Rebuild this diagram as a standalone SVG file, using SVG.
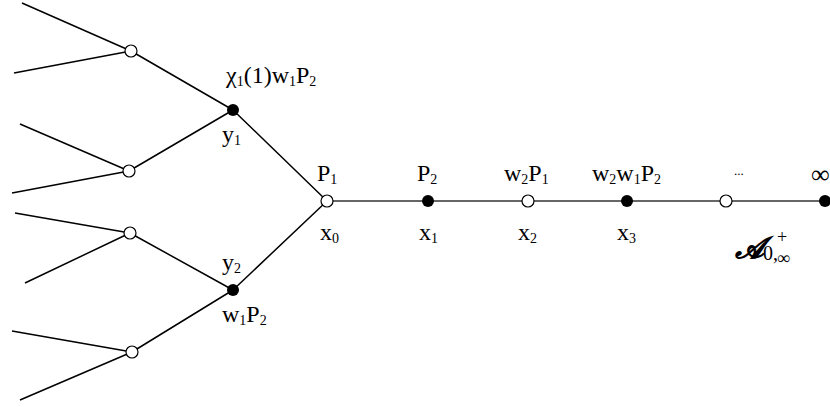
<svg xmlns="http://www.w3.org/2000/svg" width="830" height="407" viewBox="0 0 830 407">
<style>
.e{stroke:#000;stroke-width:1.5;fill:none}
.h{stroke:#333;stroke-width:1.3}
.o{fill:#fff;stroke:#000;stroke-width:1.2}
.f{fill:#000}
text{font-family:"Liberation Serif","Times New Roman",serif;font-size:24px;fill:#000}
.s{font-size:14px}
</style>
<rect width="830" height="407" fill="#fff"/>
<g id="connectors">
<path class="e" d="M22,3L131,51M14,73L131,51M20,124L129,171M12,193L129,171M15,213L130,233M25,283L130,233M12,331L132,352M20,400L132,352M131,51L233,110M129,171L233,110M130,233L233,290M132,352L233,290M233,110L327,201M233,290L327,201"/>
<line class="h" x1="327" y1="201" x2="830" y2="201"/>
</g>
<g id="leaf1"><circle class="o" cx="131" cy="51" r="6"/></g>
<g id="leaf2"><circle class="o" cx="129" cy="171" r="6"/></g>
<g id="leaf3"><circle class="o" cx="130" cy="233" r="6"/></g>
<g id="leaf4"><circle class="o" cx="132" cy="352" r="6"/></g>
<g id="y1"><circle class="f" cx="233" cy="110" r="6"/>
<text x="226" y="83">χ<tspan class="s" dy="3">1</tspan><tspan dy="-3">(1)w</tspan><tspan class="s" dy="3">1</tspan><tspan dy="-3">P</tspan><tspan class="s" dy="3">2</tspan></text>
<text x="222" y="142">y<tspan class="s" dy="3">1</tspan></text></g>
<g id="y2"><circle class="f" cx="233" cy="290" r="6"/>
<text x="222" y="270">y<tspan class="s" dy="3">2</tspan></text>
<text x="222" y="322">w<tspan class="s" dy="3">1</tspan><tspan dy="-3">P</tspan><tspan class="s" dy="3">2</tspan></text></g>
<g id="x0"><circle class="o" cx="327" cy="201" r="6"/>
<text x="317" y="181">P<tspan class="s" dy="3">1</tspan></text>
<text x="320" y="240">x<tspan class="s" dy="3">0</tspan></text></g>
<g id="x1"><circle class="f" cx="428" cy="201" r="6"/>
<text x="417" y="181">P<tspan class="s" dy="3">2</tspan></text>
<text x="419" y="240">x<tspan class="s" dy="3">1</tspan></text></g>
<g id="x2"><circle class="o" cx="528" cy="201" r="6"/>
<text x="504" y="181">w<tspan class="s" dy="3">2</tspan><tspan dy="-3">P</tspan><tspan class="s" dy="3">1</tspan></text>
<text x="518" y="240">x<tspan class="s" dy="3">2</tspan></text></g>
<g id="x3"><circle class="f" cx="627" cy="201" r="6"/>
<text x="592" y="181">w<tspan class="s" dy="3">2</tspan><tspan dy="-3">w</tspan><tspan class="s" dy="3">1</tspan><tspan dy="-3">P</tspan><tspan class="s" dy="3">2</tspan></text>
<text x="617" y="240">x<tspan class="s" dy="3">3</tspan></text></g>
<g id="x4"><circle class="o" cx="726" cy="201" r="6"/>
<text x="734" y="175" style="font-size:13px">...</text></g>
<g id="inf"><circle class="f" cx="825" cy="201" r="6"/>
<text x="811" y="183" style="font-size:26px">∞</text></g>
<g id="label-A">
<text x="735" y="258" style="font-size:30px;font-weight:bold;font-style:italic">𝓐</text>
<text x="763" y="260" style="font-size:20px">0,</text>
<text x="777" y="243" style="font-size:18px">+</text>
<text x="777" y="264" style="font-size:18px">∞</text>
</g>
</svg>
